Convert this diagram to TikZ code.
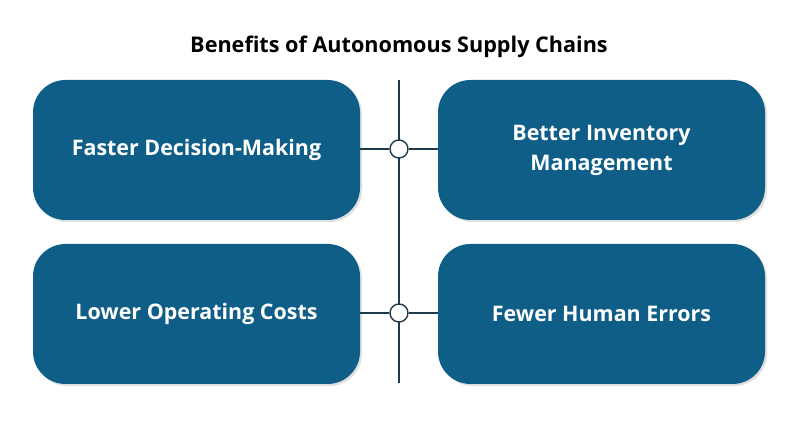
\documentclass[tikz,border=0pt]{standalone}
\usepackage{fontspec}
\setmainfont{Open Sans}
\usetikzlibrary{positioning,shadows}
\definecolor{boxblue}{HTML}{0F5E87}
\definecolor{linegray}{HTML}{1E3A4A}
\tikzset{
    benefit/.style = {
        draw=none,
        fill=boxblue,
        rounded corners=0.65cm,
        minimum width=6.54cm,
        minimum height=2.8cm,
        text=white,
        align=center,
        font=\fontsize{12.2}{17}\selectfont\bfseries,
        drop shadow={opacity=0.25, shadow xshift=0.04cm, shadow yshift=-0.04cm},
        },
    joint/.style = {
        draw=linegray,
        thick,
        fill=white,
        circle,
        inner sep=0pt,
        minimum size=0.36cm,
        },
    link/.style = {
        draw=linegray,
        thick,
        },
}
\begin{document}
\begin{tikzpicture}
            \useasboundingbox (0,0) rectangle (16.12,8.44);
            \node[font=\fontsize{12.3}{15}\selectfont\bfseries] (title) at (7.98,7.5) {Benefits of Autonomous Supply Chains};

            \coordinate (top) at (7.98,6.84);
            \coordinate (bottom) at (7.98,0.78);
            \draw[link] (top) -- (bottom);

            \node[benefit] (faster) at (3.93,5.44) {Faster Decision-Making};
            \node[benefit] (inventory) at (12.03,5.44) {Better Inventory\\Management};
            \node[benefit] (costs) at (3.93,2.16) {Lower Operating Costs};
            \node[benefit] (errors) at (12.03,2.16) {Fewer Human Errors};

            \node[joint] (j1) at (7.98,5.46) {};
            \node[joint] (j2) at (7.98,2.18) {};

            \draw[link] (faster.east |- j1) -- (j1);
            \draw[link] (j1) -- (inventory.west |- j1);
            \draw[link] (costs.east |- j2) -- (j2);
            \draw[link] (j2) -- (errors.west |- j2);
        \end{tikzpicture}
\end{document}
